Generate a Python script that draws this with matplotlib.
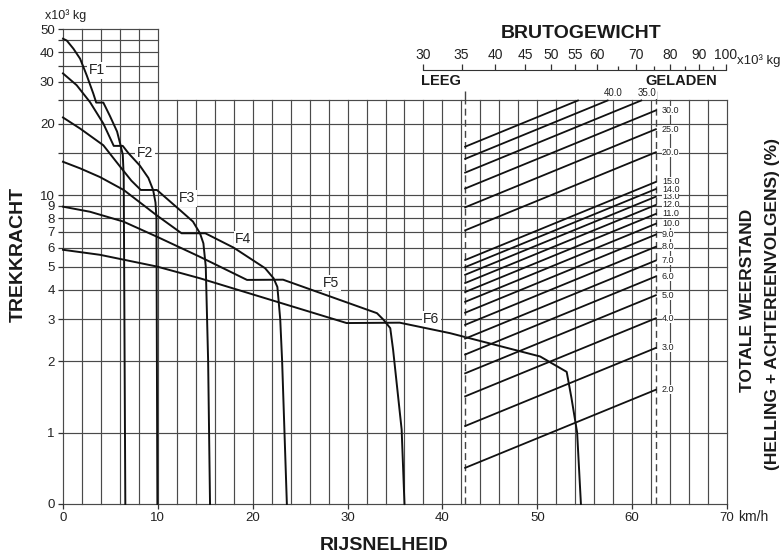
import matplotlib
matplotlib.use("Agg")
import matplotlib.pyplot as plt
from matplotlib.ticker import FixedLocator, NullFormatter, NullLocator

plt.rcParams['font.family'] = ['Liberation Sans', 'DejaVu Sans']

# tractive effort curves: speed (km/h) -> force (x10^3 kg)
f1_speed = [0, 0.4, 1.1, 1.8, 2.5, 3.2, 3.5, 4.25, 4.95, 5.7, 6.05, 6.3, 6.4, 6.57]
f1_force = [45.5, 44.7, 41.3, 37.5, 31.9, 26.7, 24.5, 24.5, 21.5, 18.5, 16.3, 14.8, 12.0, 0.5]
f2_speed = [0, 1.44, 2.85, 4.25, 5.35, 6.3, 6.9, 8.1, 9.0, 9.5, 9.75, 9.85, 9.95]
f2_force = [32.5, 29.0, 24.6, 20.0, 16.1, 16.1, 15.0, 13.3, 11.8, 10.5, 9.3, 8.0, 0.5]
f3_speed = [0, 1.8, 4.25, 6.0, 7.2, 8.2, 9.9, 12.3, 13.7, 14.44, 14.8, 15.05, 15.3, 15.5]
f3_force = [21.2, 19.05, 16.2, 13.2, 11.5, 10.5, 10.5, 8.66, 7.73, 6.9, 6.26, 5.0, 2.0, 0.5]
f4_speed = [0, 1.8, 3.9, 6.4, 9.9, 12.5, 15.0, 18.0, 21.3, 22.2, 22.6, 22.9, 23.1, 23.6]
f4_force = [13.8, 12.95, 11.9, 10.5, 8.2, 6.9, 6.9, 6.0, 4.92, 4.46, 4.1, 3.0, 2.0, 0.5]
f5_speed = [0, 2.85, 6.36, 9.88, 14.4, 19.4, 23.2, 33.1, 33.8, 34.5, 34.8, 35.7, 36.0]
f5_force = [8.93, 8.5, 7.73, 6.68, 5.5, 4.39, 4.4, 3.18, 2.98, 2.75, 2.23, 1.03, 0.5]
f6_speed = [0, 3.9, 9.88, 14.44, 29.9, 35.5, 40.8, 50.3, 53.1, 53.6, 54.2, 54.6]
f6_force = [5.88, 5.6, 5.0, 4.46, 2.89, 2.9, 2.62, 2.09, 1.8, 1.4, 1.0, 0.5]

curves = [(f1_speed, f1_force), (f2_speed, f2_force), (f3_speed, f3_force),
          (f4_speed, f4_force), (f5_speed, f5_force), (f6_speed, f6_force)]
curve_names = ['F1', 'F2', 'F3', 'F4', 'F5', 'F6']
name_speed = [3.55, 8.64, 13.1, 19.0, 28.3, 38.8]
name_force = [33.5, 15.06, 9.7, 6.5, 4.26, 3.0]

# total resistance (grade %) lines between empty and loaded gross weight
grades = [2.0, 3.0, 4.0, 5.0, 6.0, 7.0, 8.0, 9.0, 10.0, 11.0, 12.0, 13.0, 14.0,
          15.0, 20.0, 25.0, 30.0, 35.0, 40.0, 45.0]
labelled_top = [35.0, 40.0]
w_empty = 35.5
w_loaded = 75.7
force_top = 25

speed_ticks = [0, 10, 20, 30, 40, 50, 60, 70]
force_ticks = [0.5, 1, 2, 3, 4, 5, 6, 7, 8, 9, 10, 15, 20, 25, 30, 35, 40, 45, 50]
force_labels = ['0', '1', '2', '3', '4', '5', '6', '7', '8', '9', '10', '', '20', '',
                '30', '', '40', '', '50']
weight_ticks = [30, 35, 40, 45, 50, 55, 60, 70, 80, 90, 100]
weight_minor = [65, 75, 85, 95]

W, H = 784, 558


def fpos(x, y):
    return x / W, 1 - y / H


fig = plt.figure(figsize=(W / 100, H / 100), dpi=100)
ax = fig.add_axes([63 / W, 54 / H, 664 / W, 475 / H])
ax.set_yscale('log')
ax.set_xlim(0, 70)
ax.set_ylim(0.5, 50)

grid_c = '#4a4a4a'
for x in range(0, 71, 2):
    top = 50 if x <= 10 else force_top
    ax.plot([x, x], [0.5, top], color=grid_c, lw=0.85, zorder=1, clip_on=False)
for y in force_ticks:
    right = 70 if y <= force_top else 10
    ax.plot([0, right], [y, y], color=grid_c, lw=0.85, zorder=1, clip_on=False)

for (s, f) in curves:
    ax.plot(s, f, color='#111111', lw=1.4, zorder=4, clip_on=False)
for name, s, f in zip(curve_names, name_speed, name_force):
    ax.text(s, f, name, ha='center', va='center', fontsize=10, zorder=3,
            color='#222222', bbox=dict(fc='white', ec='none', pad=1.0))

for sp in ax.spines.values():
    sp.set_visible(False)
ax.set_xticks(speed_ticks, [str(v) for v in speed_ticks])
ax.set_yticks(force_ticks, force_labels)
ax.yaxis.set_minor_locator(NullLocator())
ax.tick_params(direction='out', length=3.5, width=0.9, color='#333333',
               labelsize=9.5, pad=2.5, labelcolor='#222222')

# gross weight axis (log) sharing the force axis
ax2 = ax.twiny()
ax2.set_xscale('log')
ax2.set_xlim(7.19, 100.4)
for s in ['bottom', 'left', 'right']:
    ax2.spines[s].set_visible(False)
ax2.spines['top'].set_position(('axes', 0.9137))
ax2.spines['top'].set_bounds(30, 100)
ax2.spines['top'].set_color('#333333')
ax2.set_xticks(weight_ticks, [str(v) for v in weight_ticks])
ax2.xaxis.set_minor_locator(FixedLocator(weight_minor))
ax2.xaxis.set_minor_formatter(NullFormatter())
ax2.tick_params(axis='x', which='major', direction='out', length=4, width=0.9,
                color='#333333', labelsize=10, pad=1.5, labelcolor='#222222')
ax2.tick_params(axis='x', which='minor', direction='out', length=3, width=0.9,
                color='#333333')

ax2.vlines([w_empty, w_loaded], 0.5, force_top, colors='#444444', lw=1.0,
           linestyles=(0, (5, 3)), zorder=2)
ax2.vlines([w_empty, w_loaded], force_top, 27.5, colors='#444444', lw=1.0, zorder=2)

for g in grades:
    f0 = w_empty * g / 100
    w1 = w_loaded
    f1 = w_loaded * g / 100
    if f1 > force_top:
        w1 = force_top * 100 / g
        f1 = force_top
    ax2.plot([w_empty, w1], [f0, f1], color='#111111', lw=1.3, zorder=4)
    if f1 < force_top:
        ax2.annotate(f'{g:.1f}', xy=(w1, f1), xytext=(4.3, 0), textcoords='offset points',
                     ha='left', va='center', fontsize=6.5, color='#222222', zorder=5,
                     bbox=dict(fc='white', ec='none', pad=0.05))
    elif g in labelled_top:
        ax2.annotate(f'{g:.1f}', xy=(w1, f1), xytext=(4, 1.5), textcoords='offset points',
                     ha='center', va='bottom', fontsize=7, color='#222222', zorder=5,
                     bbox=dict(fc='white', ec='none', pad=0.3))

# texts
fig.text(*fpos(45, 16), 'x10³ kg', ha='left', va='center', fontsize=9, color='#222222')
fig.text(*fpos(737, 61), 'x10³ kg', ha='left', va='center', fontsize=9.5, color='#222222')
fig.text(*fpos(738, 517), 'km/h', ha='left', va='center', fontsize=10, color='#222222')
fig.text(*fpos(581, 34), 'BRUTOGEWICHT', ha='center', va='center', fontsize=14,
         fontweight='bold', color='#1a1a1a')
fig.text(*fpos(421, 81), 'LEEG', ha='left', va='center', fontsize=10.5,
         fontweight='bold', color='#1a1a1a')
fig.text(*fpos(717, 81), 'GELADEN', ha='right', va='center', fontsize=10.5,
         fontweight='bold', color='#1a1a1a')
fig.text(*fpos(18, 254), 'TREKKRACHT', ha='center', va='center', rotation=90,
         fontsize=14, fontweight='bold', color='#1a1a1a')
fig.text(*fpos(384, 545), 'RIJSNELHEID', ha='center', va='center', fontsize=14,
         fontweight='bold', color='#1a1a1a')
fig.text(*fpos(747, 300), 'TOTALE WEERSTAND', ha='center', va='center', rotation=90,
         fontsize=12.5, fontweight='bold', color='#1a1a1a')
fig.text(*fpos(772, 304), '(HELLING + ACHTEREENVOLGENS) (%)', ha='center', va='center',
         rotation=90, fontsize=12.5, fontweight='bold', color='#1a1a1a')

fig.savefig('out.png', dpi=100)
